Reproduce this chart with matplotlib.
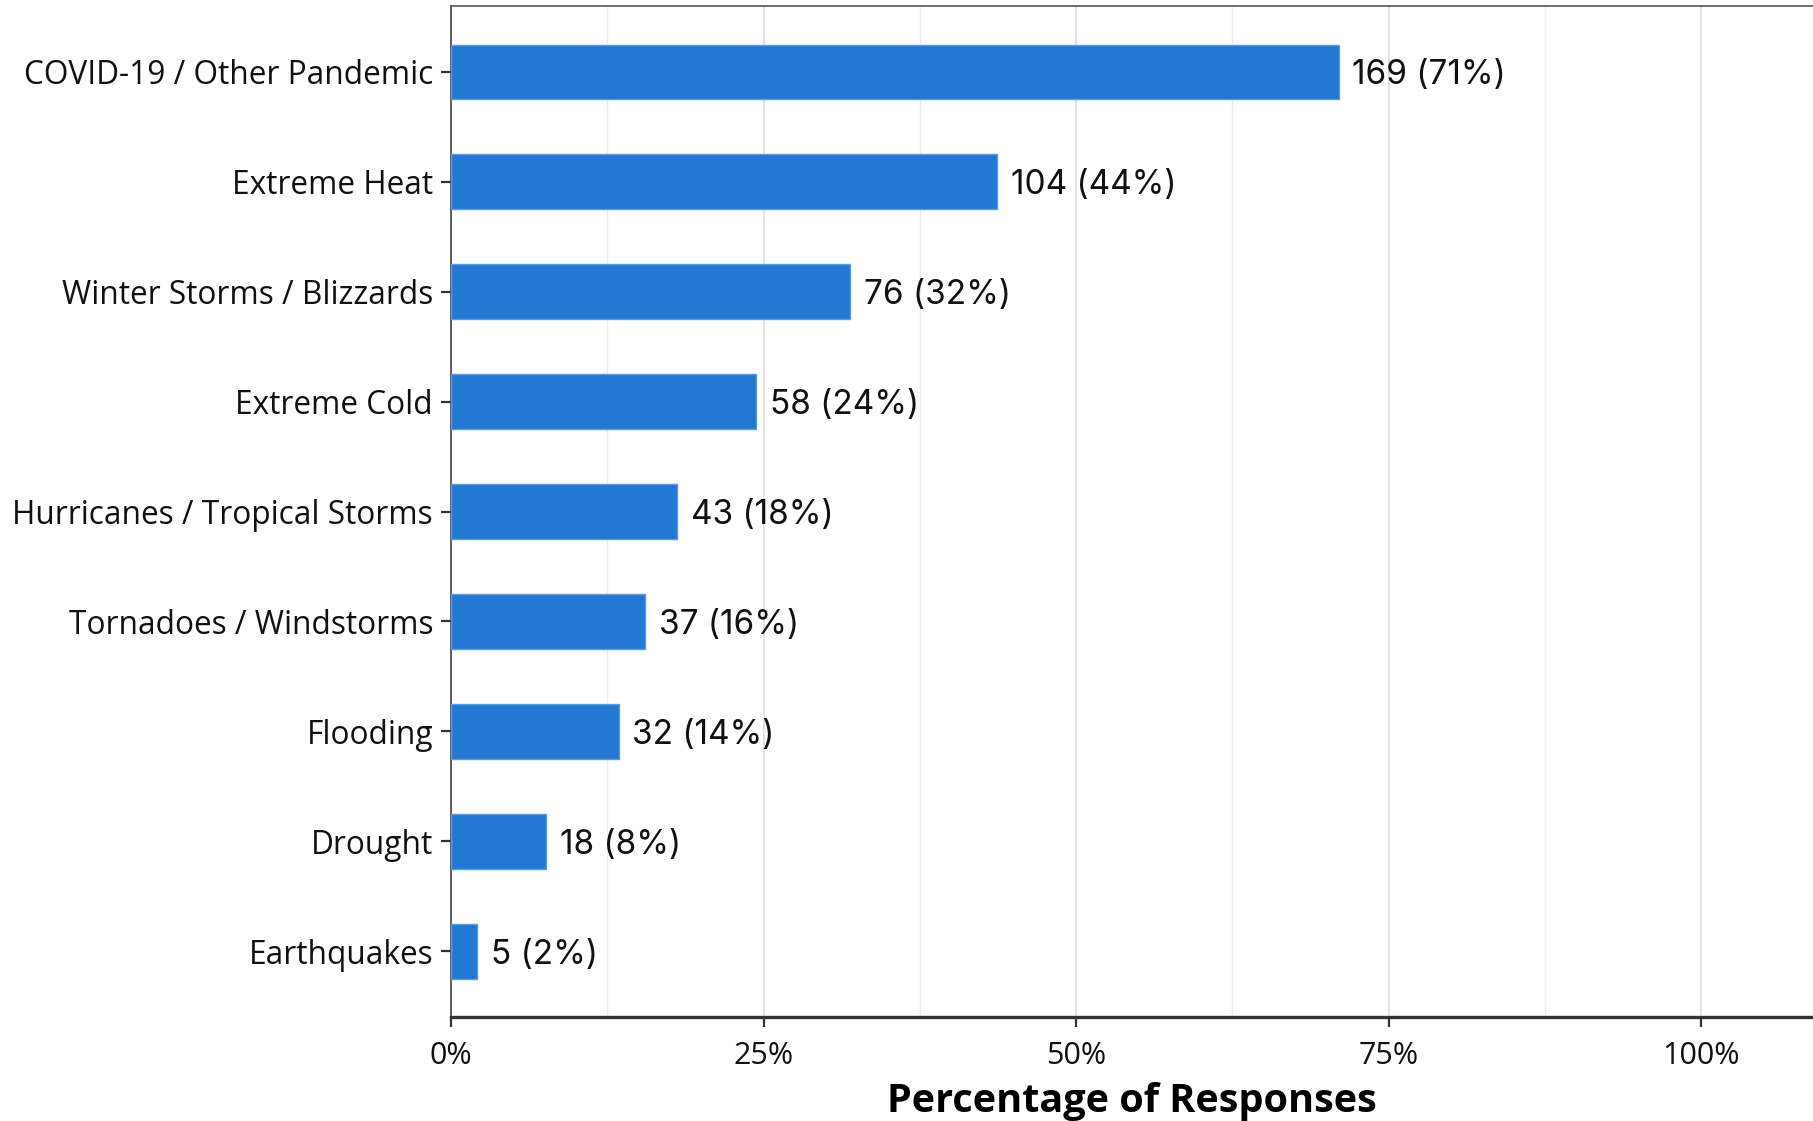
import matplotlib
matplotlib.use("Agg")
import matplotlib.pyplot as plt
from matplotlib.ticker import FixedLocator

categories = ["COVID-19 / Other Pandemic", "Extreme Heat", "Winter Storms / Blizzards",
              "Extreme Cold", "Hurricanes / Tropical Storms", "Tornadoes / Windstorms",
              "Flooding", "Drought", "Earthquakes"]
counts = [169, 104, 76, 58, 43, 37, 32, 18, 5]
shares = [0.710, 0.437, 0.319, 0.244, 0.181, 0.155, 0.134, 0.076, 0.021]
pct_labels = ["71%", "44%", "32%", "24%", "18%", "16%", "14%", "8%", "2%"]
xticks = [0, 0.25, 0.5, 0.75, 1.0]
xtick_labels = ["0%", "25%", "50%", "75%", "100%"]

fig = plt.figure(figsize=(18.13, 11.21), dpi=100)
ax = fig.add_axes([0.2488, 0.0928, 0.7512, 0.9018])

n = len(categories)
ypos = [n - 1 - i for i in range(n)]
ax.barh(ypos, shares, height=0.5, color="#2277d2", edgecolor="#5d9be2", linewidth=1, zorder=3)
for y, v, c, p in zip(ypos, shares, counts, pct_labels):
    ax.annotate(f"{c} ({p})", xy=(v, y), xytext=(10, -2.5), textcoords="offset points",
                va="center", ha="left", fontsize=24, family="Inter", color="#111111")

ax.set_xlim(0, 1.0896)
ax.set_ylim(-0.6, n - 0.4)
ax.set_yticks(ypos)
ax.set_yticklabels(categories, fontsize=22.8, family="Open Sans", color="#111111")
ax.xaxis.set_major_locator(FixedLocator(xticks))
ax.set_xticklabels(xtick_labels, fontsize=22, family="Open Sans", color="#111111")
ax.xaxis.set_minor_locator(FixedLocator([0.125, 0.375, 0.625, 0.875]))
ax.grid(axis="x", which="major", color="#e3e3e3", linewidth=1.5, zorder=0)
ax.grid(axis="x", which="minor", color="#eeeeee", linewidth=1.0, zorder=0)
ax.grid(axis="y", visible=False)
ax.tick_params(axis="x", which="minor", length=0)
ax.tick_params(axis="y", which="major", length=7, width=1.6, color="#333333", pad=6)
ax.tick_params(axis="x", which="major", length=7, width=1.6, color="#333333", pad=10)
ax.set_xlabel("Percentage of Responses", fontsize=28.5, family="Open Sans", fontweight="bold",
              color="#000000", labelpad=8)

ax.spines["right"].set_visible(False)
ax.spines["top"].set_color("#555555")
ax.spines["top"].set_linewidth(1.2)
ax.spines["left"].set_color("#444444")
ax.spines["left"].set_linewidth(1.2)
ax.spines["bottom"].set_color("#333333")
ax.spines["bottom"].set_linewidth(2.4)

fig.savefig("out.png", dpi=100)
